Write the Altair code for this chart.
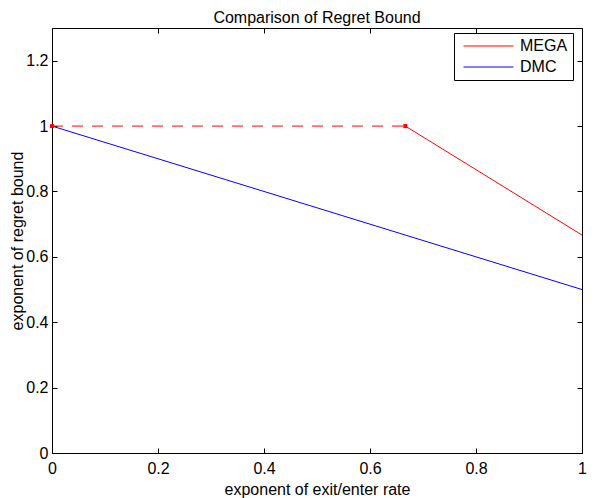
import altair as alt
import pandas as pd

series = ["MEGA", "DMC"]
mega_x = [0, 2 / 3, 1]
mega_y = [1, 1, 2 / 3]
dmc_x = [0, 1]
dmc_y = [1, 0.5]
x_ticks = [0, 0.2, 0.4, 0.6, 0.8, 1]
y_ticks = [0, 0.2, 0.4, 0.6, 0.8, 1, 1.2]

font = "Liberation Sans"

dmc = pd.DataFrame({"x": dmc_x, "y": dmc_y, "series": "DMC"})
mega_dash = pd.DataFrame({"x": mega_x[:2], "y": mega_y[:2], "series": "MEGA"})
mega_solid = pd.DataFrame({"x": mega_x[1:], "y": mega_y[1:], "series": "MEGA"})

x_scale = alt.Scale(domain=[0, 1], nice=False, zero=False)
y_scale = alt.Scale(domain=[0, 1.3], nice=False)
color_scale = alt.Scale(domain=series, range=["#ff0000", "#0000ff"])


def tick_axis(orient, values):
    # inward MATLAB-style ticks: axis pulled 5px inside the frame
    return alt.Axis(orient=orient, values=values, labels=False, domain=False,
                    grid=False, ticks=True, tickSize=5, tickColor="black",
                    offset=-5, title=None)


legend = alt.Legend(
    title=None, orient="none", legendX=402, legendY=5,
    symbolType="stroke", symbolSize=2500, symbolStrokeWidth=1,
    clipHeight=16, rowPadding=5, padding=5, symbolOffset=4, labelOffset=6,
    labelFontSize=16, labelFont=font, labelColor="black",
    strokeColor="black", fillColor="white",
)

dmc_line = alt.Chart(dmc).mark_line(strokeWidth=1).encode(
    x=alt.X("x:Q", scale=x_scale, title="exponent of exit/enter rate",
            axis=alt.Axis(values=x_ticks, format="~g", ticks=False, domain=False,
                          grid=False, labelFlush=False, labelPadding=7,
                          titlePadding=5)),
    y=alt.Y("y:Q", scale=y_scale, title="exponent of regret bound",
            axis=alt.Axis(values=y_ticks, format="~g", ticks=False, domain=False,
                          grid=False, labelFlush=False, labelPadding=4,
                          titlePadding=0)),
    color=alt.Color("series:N", scale=color_scale, legend=legend),
)

mega_dashed = alt.Chart(mega_dash).mark_line(
    strokeWidth=1, strokeDash=[11, 9]
).encode(
    x=alt.X("x:Q", scale=x_scale, axis=tick_axis("bottom", x_ticks)),
    y=alt.Y("y:Q", scale=y_scale, axis=tick_axis("left", y_ticks)),
    color=alt.Color("series:N", scale=color_scale, legend=None),
)

mega_line = alt.Chart(mega_solid).mark_line(strokeWidth=1).encode(
    x=alt.X("x:Q", scale=x_scale, axis=tick_axis("top", x_ticks)),
    y=alt.Y("y:Q", scale=y_scale, axis=tick_axis("right", y_ticks)),
    color=alt.Color("series:N", scale=color_scale, legend=None),
)

markers = alt.Chart(mega_dash).mark_square(size=16, color="#ff0000", opacity=1).encode(
    x=alt.X("x:Q", scale=x_scale, axis=None),
    y=alt.Y("y:Q", scale=y_scale, axis=None),
)

chart = alt.layer(dmc_line, mega_dashed, mega_line, markers).resolve_axis(
    x="independent", y="independent"
).properties(
    width=530,
    height=425,
    autosize=alt.AutoSizeParams(type="none"),
    padding={"left": 44, "top": 20, "right": 6, "bottom": 45},
    title=alt.Title("Comparison of Regret Bound", fontSize=16, font=font,
                    fontWeight="normal", offset=2, anchor="middle", color="black"),
).configure_view(
    stroke="black", strokeWidth=1
).configure_axis(
    labelFont=font, labelFontSize=16, labelColor="black",
    titleFont=font, titleFontSize=16, titleFontWeight="normal", titleColor="black",
)

chart.save("out.html", embed_options={"renderer": "svg", "actions": False})
